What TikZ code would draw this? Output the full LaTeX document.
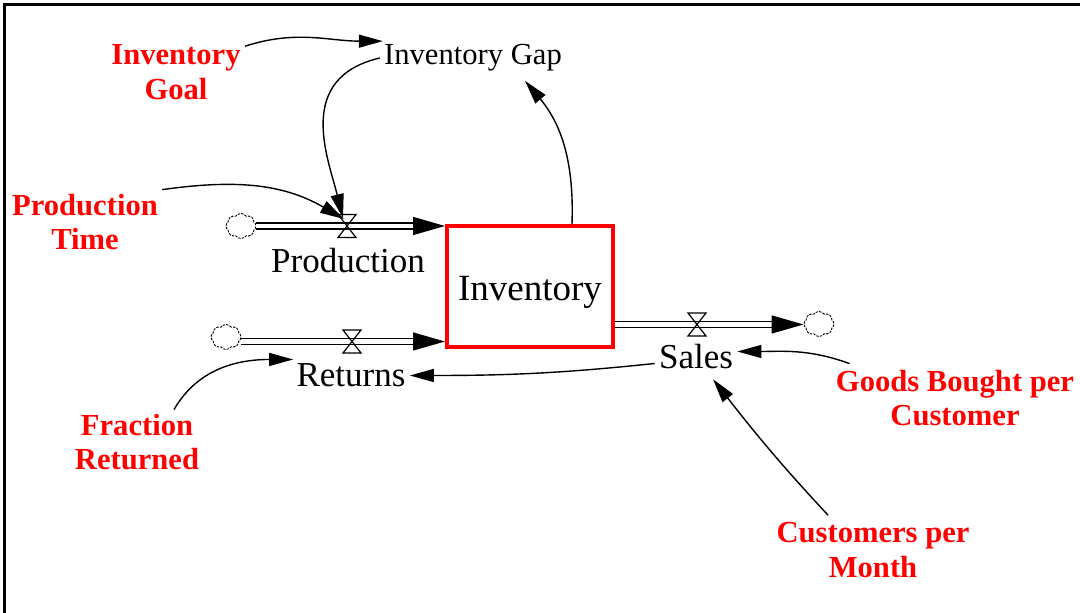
\documentclass[tikz,border=0pt]{standalone}
\usepackage{fontspec}
\setmainfont{Liberation Serif}
\usetikzlibrary{arrows.meta,shapes.symbols}

\tikzset{
  stock/.style={draw=red, line width=1.8pt, minimum width=83.2pt, minimum height=60.7pt,
    text height=18pt, font=\fontsize{18.5}{22}\selectfont},
  aux/.style={inner sep=2pt, font=\fontsize{17.5}{21}\selectfont},
  const/.style={inner sep=2pt, text=red, align=center,
    font=\fontsize{15.3}{17.2}\selectfont\bfseries},
  link/.style={line width=0.7pt, -{Triangle[length=12pt,width=6.5pt]}},
  pipe/.style={double, double distance=2.2pt, line width=0.7pt},
  pipetip/.style={line width=0.7pt, -{Triangle[length=16pt,width=9pt]}},
  source/.style={cloud, cloud puffs=8, cloud puff arc=110, draw=black, densely dashed,
    dash pattern=on 1.2pt off 0.6pt, line width=0.45pt,
    minimum width=15pt, minimum height=12.5pt, inner sep=0pt},
  valve/.pic={\draw[line width=0.6pt] (-9,11.5) -- (9,11.5) -- (-9,-11.5) -- (9,-11.5) -- cycle;}
}

\begin{document}
\begin{tikzpicture}[x=0.5pt,y=0.5pt]
    \useasboundingbox (0,0) rectangle (1080,-613);
    \draw[line width=1.5pt] (4.5,-613) -- (4.5,-4.5) -- (1080,-4.5);

    % stock and flow names
    \node[stock] (inv) at (530,-286.5) {Inventory};
    \node[aux, font=\fontsize{15.3}{18}\selectfont] (gap) at (473,-58) {Inventory Gap};
    \node[aux] (prod) at (348,-261) {Production};
    \node[aux] (ret) at (351,-375.5) {Returns};
    \node[aux] (sales) at (696,-356.5) {Sales};

    % constants
    \node[const] (goal) at (176,-72) {Inventory\\Goal};
    \node[const] (ptime) at (85,-222) {Production\\Time};
    \node[const] (frac) at (137,-442) {Fraction\\Returned};
    \node[const] (goods) at (955,-398) {Goods Bought per\\Customer};
    \node[const] (cust) at (873,-550) {Customers per\\Month};

    % sources and sinks
    \node[source] (pcloud) at (241,-226) {};
    \node[source] (rcloud) at (226,-337) {};
    \node[source] (scloud) at (819,-324) {};

    \coordinate (pv) at (347,-226);
    \coordinate (rv) at (352,-341.5);
    \coordinate (sv) at (697,-324.5);

    % pipes
    \draw[pipe] (pcloud.east |- pv) -- ([xshift=-8pt]inv.west |- pv);
    \draw[pipetip] ([xshift=-8pt]inv.west |- pv) -- (inv.west |- pv);
    \draw[pipe] (rcloud.east |- rv) -- ([xshift=-8pt]inv.west |- rv);
    \draw[pipetip] ([xshift=-8pt]inv.west |- rv) -- (inv.west |- rv);
    \draw[pipe] (inv.east |- sv) -- ([xshift=-8pt]scloud.west |- sv);
    \draw[pipetip] ([xshift=-8pt]scloud.west |- sv) -- (scloud.west |- sv);

    \pic at (pv) {valve};
    \pic at (rv) {valve};
    \pic at (sv) {valve};

    % links
    \draw[link] ([shift={(0,-6)}]goal.north east) to[out=18, in=180] ([shift={(3,-1)}]gap.north west);
    \draw[link] (gap.west) .. controls +(-85,-20) and +(-15,60) .. ([shift={(-4,8)}]pv);
    \draw[link] ([shift={(42,0)}]inv.north) to[out=88, in=-50] ([shift={(52,-5)}]gap.south);
    \draw[link] (ptime.north east) to[out=8, in=150] ([shift={(-3,7)}]pv);
    \draw[link] ([shift={(37,0)}]frac.north) to[out=60, in=180] ([shift={(1,0)}]ret.north west);
    \draw[link] ([shift={(0,-7)}]sales.west) to[out=186, in=0] (ret.east);
    \draw[link] ([shift={(18,2)}]goods.north west) to[out=160, in=0] ([shift={(0,5)}]sales.east);
    \draw[link] ([shift={(-45,3)}]cust.north) to[out=133, in=-52] ([shift={(17,-6)}]sales.south);
\end{tikzpicture}
\end{document}
